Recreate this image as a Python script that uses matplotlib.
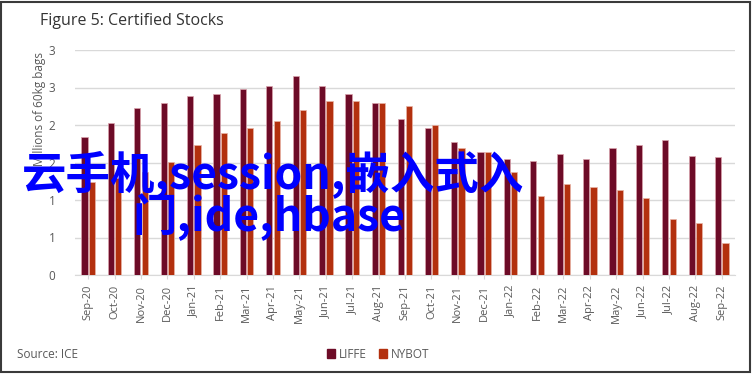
import matplotlib
matplotlib.use("Agg")
import matplotlib.pyplot as plt
import numpy as np
from matplotlib.patches import Rectangle, Patch
from matplotlib.ticker import FuncFormatter, MultipleLocator
import math

months = ['Sep-20', 'Oct-20', 'Nov-20', 'Dec-20', 'Jan-21', 'Feb-21', 'Mar-21', 'Apr-21',
          'May-21', 'Jun-21', 'Jul-21', 'Aug-21', 'Sep-21', 'Oct-21', 'Nov-21', 'Dec-21',
          'Jan-22', 'Feb-22', 'Mar-22', 'Apr-22', 'May-22', 'Jun-22', 'Jul-22', 'Aug-22', 'Sep-22']
liffe = [1.84, 2.03, 2.23, 2.30, 2.39, 2.42, 2.48, 2.52, 2.66, 2.52, 2.42, 2.30, 2.08,
         1.96, 1.77, 1.64, 1.55, 1.52, 1.62, 1.55, 1.69, 1.74, 1.80, 1.59, 1.58]
nybot = [1.24, 1.29, 1.38, 1.51, 1.73, 1.90, 1.96, 2.06, 2.20, 2.32, 2.32, 2.30, 2.25,
         2.00, 1.70, 1.64, 1.37, 1.06, 1.21, 1.18, 1.14, 1.03, 0.75, 0.70, 0.43]

c_liffe = '#6d0b27'
c_nybot = '#b3300e'
grey = '#595959'

plt.rcParams['font.family'] = ['Open Sans', 'DejaVu Sans']

W, H = 753, 375
fig = plt.figure(figsize=(W / 100, H / 100), dpi=100)

# outer frame
fig.patches.append(Rectangle((1 / W, 3 / H), 749 / W, 370 / H, transform=fig.transFigure,
                             fill=False, edgecolor='#3a3a3a', lw=1.5))

ax = fig.add_axes([75 / W, 100 / H, 660 / W, 225 / H])
x = np.arange(len(months))
ax.bar(x - 0.14, liffe, width=0.24, color=c_liffe, edgecolor='#d9a3ad', linewidth=0.5, zorder=3)
ax.bar(x + 0.14, nybot, width=0.24, color=c_nybot, edgecolor='#e8b4a6', linewidth=0.5, zorder=3)

ax.set_xlim(-0.5, len(months) - 0.5)
ax.set_ylim(0, 3)
ax.yaxis.set_major_locator(MultipleLocator(0.5))
ax.yaxis.set_major_formatter(FuncFormatter(lambda v, p: str(int(math.floor(v + 0.5)))))
ax.grid(axis='y', color='#d9d9d9', lw=1, zorder=0)
ax.set_xticks(x)
ax.set_xticklabels(months, rotation=90, fontsize=8, color=grey)
ax.tick_params(axis='y', length=0, labelsize=8.5, labelcolor=grey, pad=14)
ax.tick_params(axis='x', length=3, color='#d9d9d9', pad=4)
for s in ['top', 'right', 'left']:
    ax.spines[s].set_visible(False)
ax.spines['bottom'].set_color('#d9d9d9')

fig.text(40 / W, 1 - 109 / H, 'Millions of 60kg bags', rotation=90, ha='center', va='center',
         fontsize=8.5, color=grey)
fig.text(40 / W, 1 - 21 / H, 'Figure 5: Certified Stocks', fontsize=11.5, color='#333333',
         ha='left', va='center')
fig.text(17 / W, 1 - 354 / H, 'Source: ICE', fontsize=8.5, color=grey, ha='left', va='center')

handles = [Patch(color=c_liffe, label='LIFFE'), Patch(color=c_nybot, label='NYBOT')]
fig.legend(handles=handles, loc='center', bbox_to_anchor=(378 / W, 1 - 354 / H), ncol=2,
           frameon=False, fontsize=8.5, handlelength=0.7, handleheight=0.7,
           handletextpad=0.3, columnspacing=1.0, labelcolor=grey)

wm = ['Noto Sans CJK SC', 'DejaVu Sans']
fig.text(273 / W, 1 - 174 / H, '云手机,session,嵌入式入', family=wm, fontsize=32,
         fontweight='bold', color='#0000ff', ha='center', va='center', zorder=10)
fig.text(269 / W, 1 - 217 / H, '门,ide,hbase', family=wm, fontsize=32,
         fontweight='bold', color='#0000ff', ha='center', va='center', zorder=10)

fig.savefig('out.png', dpi=100)
